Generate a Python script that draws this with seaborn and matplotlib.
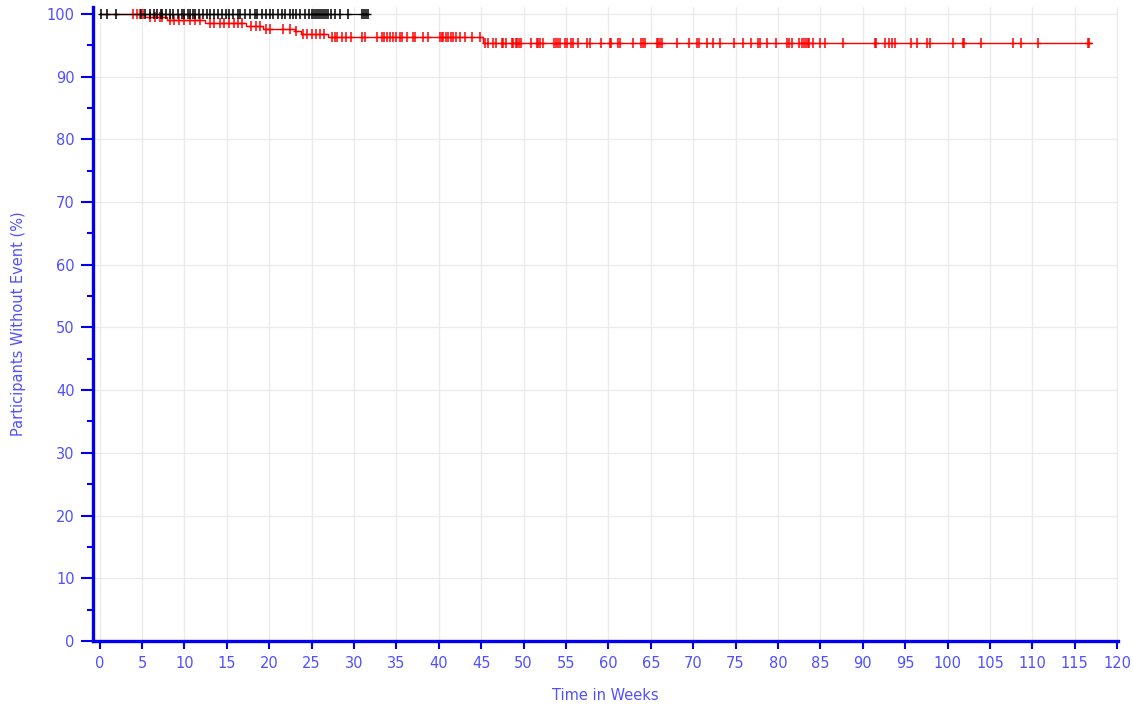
import numpy as np
import pandas as pd
import matplotlib
matplotlib.use("Agg")
import matplotlib.pyplot as plt
import seaborn as sns
from matplotlib.ticker import MultipleLocator

# Kaplan-Meier step curves (weeks, % without event)
red_step_weeks = [0.0, 5.3, 7.9, 12.4, 17.3, 19.3, 23.0, 23.7, 26.9, 45.2, 117.0]
red_step_surv = [100.0, 99.5, 99.0, 98.5, 98.0, 97.6, 97.2, 96.8, 96.3, 95.3, 95.3]

black_step_weeks = [0.0, 31.7]
black_step_surv = [100.0, 100.0]

# Censoring times (weeks)
red_censor_weeks = [
    3.9, 4.4, 4.7, 5.1, 5.9, 6.5, 7.1, 7.4, 8.3, 8.8, 9.4, 10.0, 10.6, 11.2, 11.8,
    13.0, 13.5, 14.2, 14.7, 15.3, 15.8, 16.3, 16.8, 17.9, 18.4, 18.9, 19.6, 20.1,
    21.6, 22.4, 23.2, 24.0, 24.4, 25.0, 25.5, 26.0, 26.4, 27.4, 27.7, 28.0, 28.6,
    29.1, 29.7, 30.9, 31.3, 32.7, 33.3, 33.5, 33.9, 34.2, 34.6, 35.0, 35.4, 35.6,
    36.2, 36.9, 37.2, 38.1, 38.7, 40.1, 40.4, 40.5, 40.8, 41.1, 41.4, 41.7, 42.0,
    42.5, 43.1, 43.9, 44.8, 45.5, 45.8, 46.4, 46.7, 47.4, 47.6, 47.9, 48.6, 48.7,
    49.1, 49.2, 49.4, 49.7, 50.9, 51.6, 51.7, 51.9, 52.3, 53.6, 53.8, 54.0, 54.3,
    54.9, 55.1, 55.6, 55.8, 56.4, 57.5, 57.8, 59.1, 60.2, 60.3, 61.1, 61.4, 62.9,
    63.8, 64.1, 64.3, 65.7, 65.8, 66.1, 66.3, 68.1, 69.5, 70.4, 70.7, 71.6, 72.3,
    73.2, 74.8, 75.9, 76.8, 77.6, 77.9, 78.7, 79.8, 81.1, 81.3, 81.7, 82.5, 82.8,
    83.1, 83.3, 83.5, 83.7, 84.1, 85.0, 85.5, 87.7, 91.4, 91.6, 92.6, 93.1, 93.5,
    93.8, 95.7, 96.4, 97.6, 97.9, 100.6, 101.8, 101.9, 103.9, 107.7, 108.7, 110.7,
    116.6, 116.7,
]
black_censor_weeks = [
    0.2, 0.9, 1.9, 4.9, 5.4, 5.9, 6.4, 6.8, 7.2, 7.4, 7.8, 8.3, 8.7, 9.2, 9.7,
    10.0, 10.4, 10.6, 11.0, 11.3, 11.7, 12.2, 12.6, 13.0, 13.5, 13.9, 14.4, 14.9,
    15.2, 15.7, 16.3, 16.6, 17.1, 17.7, 18.3, 18.6, 19.1, 19.6, 20.1, 20.5, 21.0,
    21.5, 21.9, 22.4, 22.8, 23.1, 23.6, 24.2, 24.7, 25.0, 25.3, 25.5, 25.7, 26.0,
    26.2, 26.4, 26.7, 26.9, 27.3, 27.7, 28.3, 29.3, 30.9, 31.2, 31.4, 31.7,
]

x_ticks = list(range(0, 121, 5))
y_ticks = list(range(0, 101, 10))

TICK_BLUE = "#5050ff"
AXIS_BLUE = "#0000ee"


def surv_at(times, step_weeks, step_surv):
    idx = np.searchsorted(step_weeks, times, side="right") - 1
    return np.asarray(step_surv)[np.clip(idx, 0, len(step_surv) - 1)]


red_curve = pd.DataFrame({"week": red_step_weeks, "surv": red_step_surv})
black_curve = pd.DataFrame({"week": black_step_weeks, "surv": black_step_surv})
red_cens = pd.DataFrame({"week": red_censor_weeks,
                         "surv": surv_at(red_censor_weeks, red_step_weeks, red_step_surv)})
black_cens = pd.DataFrame({"week": black_censor_weeks,
                           "surv": surv_at(black_censor_weeks, black_step_weeks, black_step_surv)})

sns.set_theme(style="white")
plt.rcParams["font.family"] = ["DejaVu Sans"]

fig = plt.figure(figsize=(11.33, 7.04), dpi=100)
ax = fig.add_axes([0.082, 0.0895, 0.9047, 0.9006])

sns.lineplot(data=red_curve, x="week", y="surv", ax=ax, color="#ff0000",
             drawstyle="steps-post", linewidth=1.0, zorder=3)
sns.lineplot(data=black_curve, x="week", y="surv", ax=ax, color="#000000",
             drawstyle="steps-post", linewidth=0.9, zorder=4)

# censor ticks: a tall "+" (vertical bar plus a short horizontal stroke)
for df, col, z in ((red_cens, "#ff0000", 3), (black_cens, "#000000", 4)):
    ax.plot(df["week"], df["surv"], linestyle="none", marker="|",
            markersize=7, markeredgewidth=1.1, color=col, zorder=z)
    ax.plot(df["week"], df["surv"], linestyle="none", marker="_",
            markersize=5, markeredgewidth=1.0, color=col, zorder=z)

ax.set_xlim(-0.8, 120.1)
ax.set_ylim(0, 101.1)
ax.set_xticks(x_ticks)
ax.set_yticks(y_ticks)
ax.yaxis.set_minor_locator(MultipleLocator(5))

ax.grid(True, which="major", color="#ebebeb", linewidth=1.0)
ax.set_axisbelow(True)

for side in ("top", "right"):
    ax.spines[side].set_visible(False)
for side in ("left", "bottom"):
    ax.spines[side].set_color(AXIS_BLUE)
    ax.spines[side].set_linewidth(2.4)

ax.tick_params(axis="y", which="major", direction="out", length=9, width=1.5,
               color=AXIS_BLUE, labelcolor=TICK_BLUE, labelsize=10.5, pad=4, left=True)
ax.tick_params(axis="y", which="minor", direction="out", length=4.5, width=1.5,
               color=AXIS_BLUE, left=True)
ax.tick_params(axis="x", which="major", direction="out", length=6, width=1.5,
               color=AXIS_BLUE, labelcolor=TICK_BLUE, labelsize=10.5, pad=5, bottom=True)

ax.set_xlabel("Time in Weeks", color=TICK_BLUE, fontsize=10.5, labelpad=12)
ax.set_ylabel("Participants Without Event (%)", color=TICK_BLUE, fontsize=10.5, labelpad=15)

fig.savefig("out.png", dpi=100)
